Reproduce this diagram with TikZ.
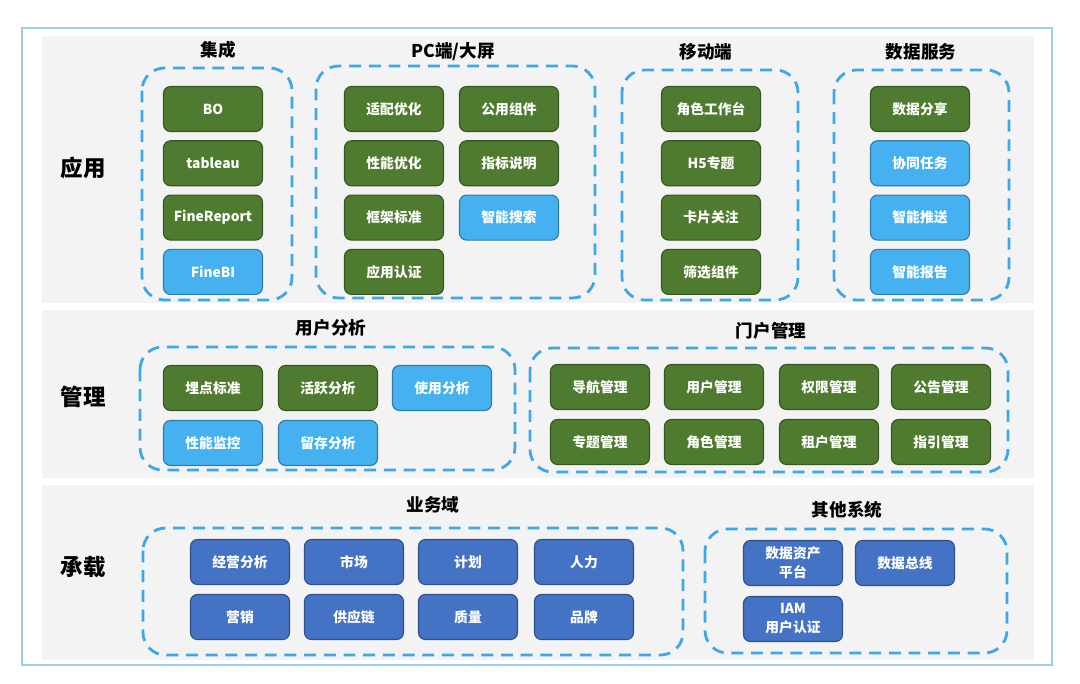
\documentclass[tikz,border=0pt]{standalone}
\usepackage{fontspec}
\setmainfont{Noto Sans CJK SC}
\definecolor{G}{HTML}{4E7B2F}
\definecolor{L}{HTML}{46B1F0}
\definecolor{B}{HTML}{4472C4}
\definecolor{dashblue}{HTML}{3EA8E6}
\definecolor{frameblue}{HTML}{9DCDED}
\definecolor{bandgray}{HTML}{F3F3F3}
\begin{document}
\begin{tikzpicture}[x=0.025cm,y=-0.025cm,
    group/.style={draw=dashblue, line width=2pt, dash pattern=on 8.5pt off 5.5pt, rounded corners=16pt},
    item/.style={fill=#1, draw=#1!70!black, line width=0.8pt, rounded corners=5pt,
      minimum width=2.475cm, minimum height=1.125cm, inner sep=1pt, align=center,
      text=white, font=\fontsize{9.8}{13.5}\selectfont\bfseries},
    title/.style={font=\fontsize{12.5}{14}\selectfont\bfseries},
    layer/.style={font=\fontsize{16}{18}\selectfont\bfseries}]

    \fill[white] (0,0) rectangle (1080,684);
    \useasboundingbox (0,0) rectangle (1080,684);
    \draw[frameblue, line width=1.4pt] (22,28) rectangle (1052,665);

    \fill[bandgray] (42,36) rectangle (1034,303);
    \fill[bandgray] (42,310) rectangle (1034,478);
    \fill[bandgray] (42,485) rectangle (1034,660);

    \node[layer] (app) at (83,168) {应用};
    \node[layer] (mgmt) at (83,397) {管理};
    \node[layer] (base) at (83,567) {承载};

    % 应用
    \node[title] (tint) at (218,50) {集成};
    \draw[group] (142,68) rectangle (292,300);
    \foreach \t/\c [count=\i] in {BO/G, tableau/G, FineReport/G, FineBI/L}
        \node[item=\c] (int\i) at (213,{109+54.3*(\i-1)}) {\t};

    \node[title] (tpc) at (453,52) {PC端/大屏};
    \draw[group] (316,66) rectangle (595,298);
    \foreach \t/\c [count=\i] in {适配优化/G, 性能优化/G, 框架标准/G, 应用认证/G}
        \node[item=\c] (pca\i) at (394,{109+54.3*(\i-1)}) {\t};
    \foreach \t/\c [count=\i] in {公用组件/G, 指标说明/G, 智能搜索/L}
        \node[item=\c] (pcb\i) at (509,{109+54.3*(\i-1)}) {\t};

    \node[title] (tmob) at (706,52) {移动端};
    \draw[group] (622,70) rectangle (798,300);
    \foreach \t/\c [count=\i] in {角色工作台/G, H5专题/G, 卡片关注/G, 筛选组件/G}
        \node[item=\c] (mob\i) at (711,{109+54.3*(\i-1)}) {\t};

    \node[title] (tsvc) at (921,52) {数据服务};
    \draw[group] (834,70) rectangle (1009,300);
    \foreach \t/\c [count=\i] in {数据分享/G, 协同任务/L, 智能推送/L, 智能报告/L}
        \node[item=\c] (svc\i) at (920,{109+54.3*(\i-1)}) {\t};

    % 管理
    \node[title] (tusr) at (331,328) {用户分析};
    \draw[group] (140,347) rectangle (515,470);
    \foreach \t/\c/\x [count=\i] in {埋点标准/G/213, 活跃分析/G/328, 使用分析/L/442}
        \node[item=\c] (usa\i) at (\x,388) {\t};
    \foreach \t/\c/\x [count=\i] in {性能监控/L/213, 留存分析/L/328}
        \node[item=\c] (usb\i) at (\x,443) {\t};

    \node[title] (tptl) at (771,331) {门户管理};
    \draw[group] (530,348) rectangle (1008,472);
    \foreach \t/\x [count=\i] in {导航管理/600, 用户管理/714, 权限管理/829, 公告管理/941}
        \node[item=G] (pta\i) at (\x,387) {\t};
    \foreach \t/\x [count=\i] in {专题管理/600, 角色管理/714, 租户管理/829, 指引管理/941}
        \node[item=G] (ptb\i) at (\x,442) {\t};

    % 承载
    \node[title] (tbiz) at (433,505) {业务域};
    \draw[group] (143,528) rectangle (683,655);
    \foreach \t/\x [count=\i] in {经营分析/240, 市场/354, 计划/468, 人力/584}
        \node[item=B] (bza\i) at (\x,562) {\t};
    \foreach \t/\x [count=\i] in {营销/240, 供应链/354, 质量/468, 品牌/584}
        \node[item=B] (bzb\i) at (\x,617) {\t};

    \node[title] (toth) at (847,510) {其他系统};
    \draw[group] (705,529) rectangle (1007,653);
    \node[item=B] (oth1) at (793,563) {数据资产\\平台};
    \node[item=B] (oth2) at (905,563) {数据总线};
    \node[item=B] (oth3) at (793,619) {IAM\\用户认证};
\end{tikzpicture}
\end{document}
